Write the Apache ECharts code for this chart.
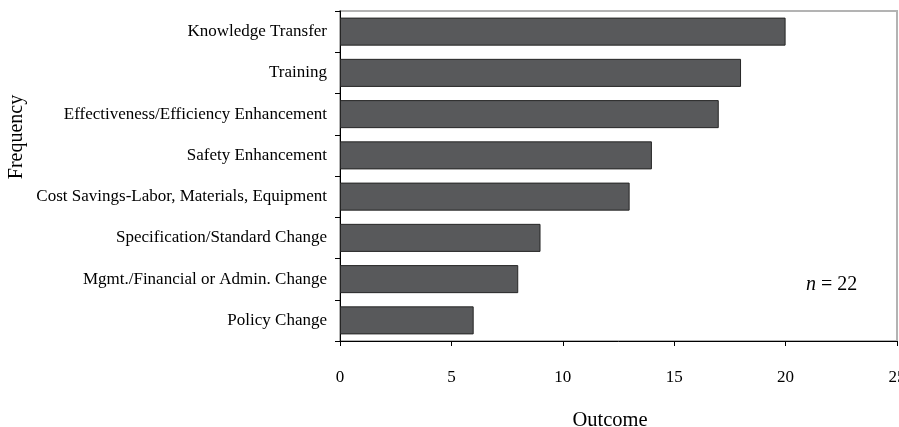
<!DOCTYPE html>
<html><head><meta charset="utf-8">
<script src="https://cdn.jsdelivr.net/npm/echarts@6/dist/echarts.min.js"></script>
<style>html,body{margin:0;padding:0;background:#fff}#c{width:899px;height:427px}</style>
</head><body><div id="c"></div>
<script>
const categories = ["Knowledge Transfer","Training","Effectiveness/Efficiency Enhancement","Safety Enhancement","Cost Savings-Labor, Materials, Equipment","Specification/Standard Change","Mgmt./Financial or Admin. Change","Policy Change"];
const values = [20,18,17,14,13,9,8,6];
const xTicks = [0,5,10,15,20,25];
const xTitle = "Outcome";
const yTitle = "Frequency";
const note = "n = 22";
const FONT = "Liberation Serif";
const chart = echarts.init(document.getElementById('c'), null, {renderer:'canvas'});
chart.setOption({
  animation:false,
  backgroundColor:'#fff',
  grid:{left:340,right:2,top:11,bottom:86,outerBoundsMode:'none',containLabel:false,show:true,borderColor:'#b3b3b3',borderWidth:2,backgroundColor:'transparent'},
  xAxis:{type:'value',min:xTicks[0],max:xTicks[xTicks.length-1],interval:5,
    splitLine:{show:false},
    axisLine:{show:true,lineStyle:{color:'#000',width:1}},
    axisTick:{show:true,length:5,lineStyle:{color:'#000'}},
    axisLabel:{margin:28,fontFamily:FONT,fontSize:17,color:'#000',showMaxLabel:true,hideOverlap:false}},
  yAxis:{type:'category',data:categories,inverse:true,
    axisLine:{show:true,lineStyle:{color:'#000',width:1}},
    axisTick:{show:true,length:5,lineStyle:{color:'#000'}},
    axisLabel:{margin:13,fontFamily:FONT,fontSize:17,color:'#000'}},
  series:[{type:'bar',data:values,barWidth:'68%',
    itemStyle:{color:'#58595b',borderColor:'#262626',borderWidth:1}}],
  graphic:[
    {type:'text',x:610,y:421,style:{text:xTitle,fontFamily:FONT,fontSize:20.5,fill:'#000',align:'center',verticalAlign:'middle'}},
    {type:'text',x:7,y:137,rotation:Math.PI/2,style:{text:yTitle,fontFamily:FONT,fontSize:20,fill:'#000',align:'center',verticalAlign:'top'}},
    {type:'text',x:806,y:285,style:{rich:{i:{fontFamily:FONT,fontStyle:'italic',fontSize:20,fill:'#000'},r:{fontFamily:FONT,fontSize:20,fill:'#000'}},text:'{i|n}{r| = 22}',verticalAlign:'middle'}}
  ]
});
</script></body></html>
